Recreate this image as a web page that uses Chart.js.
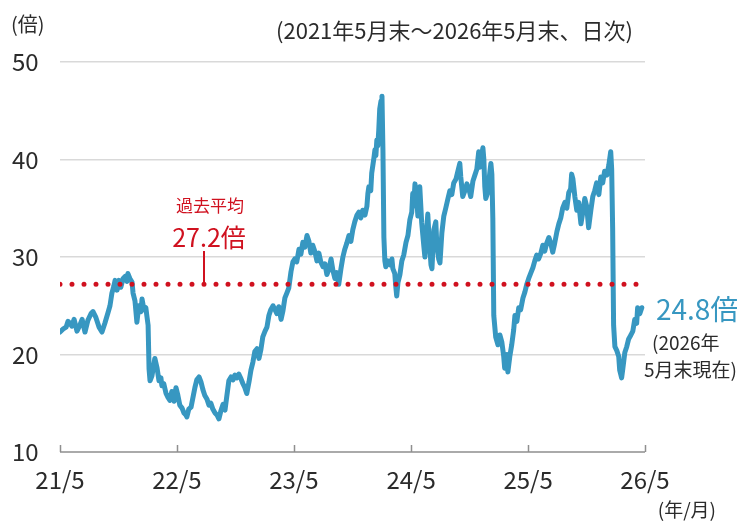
<!DOCTYPE html>
<html>
<head>
<meta charset="utf-8">
<script src="https://cdn.jsdelivr.net/npm/chart.js@4.4.1/dist/chart.umd.min.js"></script>
<style>
  html, body { margin: 0; padding: 0; background: #fff; }
  #wrap { width: 737px; height: 522px; }
</style>
</head>
<body>
<div id="wrap"><canvas id="chart" width="737" height="522"></canvas></div>
<script>
// days since 2021/5/31 (end of May 2021)
const startDate = new Date(2021, 4, 31);
const dayOffsets = [
  0, 9, 19, 25, 31, 37, 44, 53, 62, 69, 78, 87, 97, 103, 112, 122, 131, 140, 150, 156,
  162, 168, 172, 178, 184, 190, 197, 203, 209, 212, 218, 225, 228, 234, 240, 246, 253, 256, 262, 268,
  271, 275, 278, 281, 287, 293, 296, 303, 309, 315, 318, 324, 331, 337, 343, 349, 356, 362, 368, 374,
  381, 387, 393, 396, 402, 409, 415, 421, 427, 434, 440, 446, 452, 459, 465, 471, 477, 484, 490, 496,
  502, 509, 515, 521, 527, 534, 540, 546, 552, 558, 565, 571, 577, 583, 590, 596, 602, 608, 615, 621,
  627, 633, 640, 646, 652, 658, 665, 671, 677, 683, 690, 696, 702, 708, 714, 721, 727, 733, 739, 746,
  752, 758, 764, 771, 777, 783, 789, 796, 802, 808, 814, 821, 827, 833, 839, 846, 852, 858, 864, 870,
  877, 883, 889, 895, 902, 908, 914, 920, 927, 933, 939, 945, 952, 958, 961, 964, 970, 973, 980, 983,
  986, 989, 992, 995, 998, 1002, 1005, 1008, 1011, 1014, 1017, 1023, 1030, 1036, 1039, 1045, 1048, 1051, 1055, 1061,
  1067, 1073, 1080, 1086, 1092, 1098, 1101, 1104, 1108, 1114, 1117, 1120, 1123, 1129, 1136, 1139, 1145, 1148, 1151, 1158,
  1161, 1167, 1173, 1176, 1182, 1186, 1192, 1198, 1204, 1211, 1217, 1223, 1229, 1236, 1242, 1248, 1251, 1257, 1264, 1270,
  1276, 1282, 1289, 1295, 1301, 1307, 1310, 1317, 1320, 1323, 1326, 1329, 1335, 1342, 1345, 1348, 1351, 1354, 1360, 1367,
  1373, 1379, 1385, 1388, 1395, 1398, 1404, 1410, 1416, 1420, 1426, 1432, 1438, 1445, 1451, 1457, 1463, 1470, 1476, 1482,
  1488, 1494, 1501, 1507, 1513, 1519, 1526, 1532, 1538, 1544, 1551, 1557, 1563, 1569, 1576, 1582, 1588, 1594, 1597, 1601,
  1607, 1613, 1619, 1626, 1632, 1638, 1644, 1650, 1657, 1663, 1669, 1675, 1682, 1688, 1694, 1700, 1707, 1713, 1719, 1722,
  1725, 1728, 1732, 1738, 1744, 1747, 1753, 1757, 1763, 1769, 1775, 1782, 1788, 1794, 1800, 1803, 1810, 1816
];
// PER (倍)
const peValues = [
  22.3, 22.6, 22.8, 23.4, 23.2, 22.9, 23.6, 22.4, 23.0, 23.6, 22.3, 23.5, 24.2, 24.4, 23.8, 22.8, 22.3, 23.2, 24.3, 25.0,
  26.3, 27.0, 27.6, 26.6, 27.6, 26.9, 27.8, 28.0, 27.5, 28.3, 27.8, 27.4, 26.3, 25.5, 23.3, 25.0, 24.4, 25.7, 24.6, 24.8,
  24.0, 23.0, 18.5, 17.3, 17.8, 19.0, 19.6, 18.6, 17.3, 17.6, 16.8, 17.0, 16.0, 15.6, 15.3, 16.2, 15.2, 16.6, 15.8, 14.8,
  14.5, 14.0, 13.8, 13.6, 14.4, 14.6, 15.6, 16.6, 17.4, 17.7, 17.2, 16.4, 15.8, 15.4, 14.8, 15.0, 14.4, 14.0, 13.8, 13.4,
  14.2, 14.9, 14.3, 15.8, 17.3, 17.7, 17.4, 17.9, 17.6, 18.0, 17.5, 17.0, 16.6, 16.0, 17.2, 18.4, 19.2, 20.3, 20.6, 19.6,
  20.5, 21.8, 22.4, 22.8, 24.0, 24.6, 25.0, 24.6, 24.2, 24.9, 23.6, 24.5, 25.8, 26.3, 26.8, 28.5, 29.5, 29.8, 29.5, 30.8,
  30.3, 31.5, 31.0, 32.2, 31.6, 30.4, 31.2, 30.5, 29.6, 30.4, 29.5, 29.0, 29.3, 28.2, 28.7, 29.8, 28.6, 27.8, 28.4, 27.2,
  28.8, 30.0, 30.8, 31.4, 32.2, 31.6, 32.8, 33.6, 34.3, 34.6, 34.0, 34.8, 34.3, 35.2, 36.5, 37.2, 36.8, 38.6, 40.2, 41.0,
  40.4, 42.0, 41.4, 43.0, 45.2, 46.0, 46.5, 41.0, 32.0, 29.6, 29.0, 29.6, 29.2, 29.8, 28.8, 28.3, 27.0, 26.0, 27.4, 28.2,
  29.6, 30.2, 31.5, 32.2, 33.8, 34.6, 36.5, 35.2, 37.5, 35.8, 34.2, 36.4, 37.2, 33.5, 31.0, 30.0, 33.0, 34.4, 32.6, 29.2,
  28.8, 32.8, 33.6, 31.4, 29.8, 29.4, 32.5, 34.2, 35.0, 36.0, 36.8, 36.4, 37.6, 38.0, 38.8, 39.6, 38.2, 36.2, 36.8, 37.5,
  37.0, 36.2, 37.8, 38.4, 39.0, 40.8, 39.2, 40.6, 41.2, 40.0, 37.2, 36.0, 36.6, 38.8, 39.6, 38.5, 34.0, 24.0, 21.8, 21.0,
  22.0, 21.3, 19.8, 18.6, 20.0, 18.2, 19.8, 21.0, 22.5, 24.0, 23.4, 24.8, 24.6, 25.8, 26.4, 27.2, 27.8, 28.4, 28.9, 29.6,
  30.2, 29.8, 30.4, 31.2, 30.6, 31.4, 32.0, 31.4, 30.5, 31.4, 32.6, 33.4, 34.0, 35.0, 35.6, 35.0, 36.6, 37.0, 38.5, 38.0,
  36.2, 34.8, 35.6, 33.4, 34.6, 36.0, 35.2, 33.0, 34.8, 36.2, 36.8, 37.6, 36.4, 38.2, 37.6, 38.8, 38.4, 39.4, 40.8, 39.0,
  33.0, 23.0, 20.8, 20.4, 19.8, 18.4, 17.6, 18.6, 20.2, 20.8, 21.6, 22.0, 22.4, 23.6, 23.2, 24.8, 24.2, 24.8
];
const averagePE = 27.2;
const latestPE = 24.8;
const xTickLabels = ['21/5', '22/5', '23/5', '24/5', '25/5', '26/5'];
const yTickValues = [10, 20, 30, 40, 50];

const BLUE = '#3797c1';
const RED = '#d0111f';
const TEXT = '#2b2b2b';
const JP = '"Noto Sans CJK JP", "Noto Sans", sans-serif';

// tick labels "YY/M" -> day offset of that month's end
const xTickDays = xTickLabels.map(s => {
  const [yy, mm] = s.split('/').map(Number);
  const d = new Date(2000 + yy, mm, 0);
  return Math.round((d - startDate) / 86400000);
});
const xMax = xTickDays[xTickDays.length - 1];

const peData = dayOffsets.map((d, i) => ({ x: d, y: peValues[i] }));
const avgData = [{ x: 0, y: averagePE }, { x: dayOffsets[dayOffsets.length - 1] - 4, y: averagePE }];

const decor = {
  id: 'decor',
  beforeDatasetsDraw(chart) {
    const ctx = chart.ctx;
    const xs = chart.scales.x, ys = chart.scales.y;
    const yb = ys.getPixelForValue(10);
    ctx.save();
    ctx.strokeStyle = '#8f8f8f';
    ctx.lineWidth = 1.5;
    ctx.beginPath();
    ctx.moveTo(xs.getPixelForValue(0), yb);
    ctx.lineTo(xs.getPixelForValue(xMax), yb);
    xTickDays.forEach(d => {
      const px = Math.round(xs.getPixelForValue(d)) + 0.5;
      ctx.moveTo(px, yb);
      ctx.lineTo(px, yb - 7);
    });
    ctx.stroke();
    ctx.restore();
  },
  afterDraw(chart) {
    const ctx = chart.ctx;
    const ys = chart.scales.y;
    ctx.save();
    ctx.textBaseline = 'middle';

    ctx.fillStyle = TEXT;
    ctx.font = '20px ' + JP;
    ctx.textAlign = 'left';
    ctx.fillText('(倍)', 11, 24);

    ctx.font = '22px ' + JP;
    ctx.textAlign = 'right';
    ctx.fillText('(2021年5月末～2026年5月末、日次)', 633, 31);

    ctx.font = '19px ' + JP;
    ctx.fillText('(年/月)', 716, 510);

    // average annotation
    const yAvg = ys.getPixelForValue(averagePE);
    ctx.fillStyle = RED;
    ctx.textAlign = 'center';
    ctx.font = '17px ' + JP;
    ctx.fillText('過去平均', 210, 206);
    ctx.font = '25px ' + JP;
    ctx.fillText(averagePE.toFixed(1) + '倍', 209, 237);
    ctx.strokeStyle = RED;
    ctx.lineWidth = 2;
    ctx.beginPath();
    ctx.moveTo(204, 251);
    ctx.lineTo(204, yAvg);
    ctx.stroke();

    // latest value
    ctx.textAlign = 'left';
    ctx.fillStyle = BLUE;
    ctx.font = '28px ' + JP;
    ctx.fillText(latestPE.toFixed(1) + '倍', 656, 309);
    ctx.fillStyle = TEXT;
    ctx.font = '19px ' + JP;
    ctx.fillText('(2026年', 652, 343);
    ctx.fillText('5月末現在)', 644, 370);
    ctx.restore();
  }
};

new Chart(document.getElementById('chart'), {
  type: 'line',
  data: {
    datasets: [
      {
        label: '過去平均',
        data: avgData,
        borderColor: RED,
        borderWidth: 5,
        borderDash: [0, 12],
        borderCapStyle: 'round',
        pointRadius: 0,
        fill: false
      },
      {
        label: 'PER',
        data: peData,
        borderColor: BLUE,
        borderWidth: 5,
        borderJoinStyle: 'round',
        borderCapStyle: 'round',
        pointRadius: 0,
        tension: 0,
        fill: false
      }
    ]
  },
  options: {
    responsive: false,
    devicePixelRatio: 1,
    animation: false,
    layout: { padding: { left: 12, right: 92, top: 62, bottom: 0 } },
    plugins: { legend: { display: false }, tooltip: { enabled: false } },
    scales: {
      x: {
        type: 'linear',
        min: 0,
        max: xMax,
        afterBuildTicks: s => { s.ticks = xTickDays.map(v => ({ value: v })); },
        afterFit: s => { s.height = 70; },
        ticks: {
          autoSkip: false,
          maxRotation: 0,
          padding: 13,
          color: TEXT,
          font: { family: JP, size: 24 },
          callback: (v, i) => xTickLabels[i]
        },
        grid: { display: false, drawTicks: false },
        border: { display: false }
      },
      y: {
        min: 10,
        max: 50,
        afterBuildTicks: s => { s.ticks = yTickValues.map(v => ({ value: v })); },
        afterFit: s => { s.width = 48; },
        ticks: {
          crossAlign: 'far',
          padding: 0,
          color: TEXT,
          font: { family: JP, size: 24 }
        },
        grid: {
          drawTicks: false,
          lineWidth: 1.5,
          color: c => (c.tick && c.tick.value === 10 ? 'rgba(0,0,0,0)' : '#d9d9d9')
        },
        border: { display: false }
      }
    }
  },
  plugins: [decor]
});
</script>
</body>
</html>
